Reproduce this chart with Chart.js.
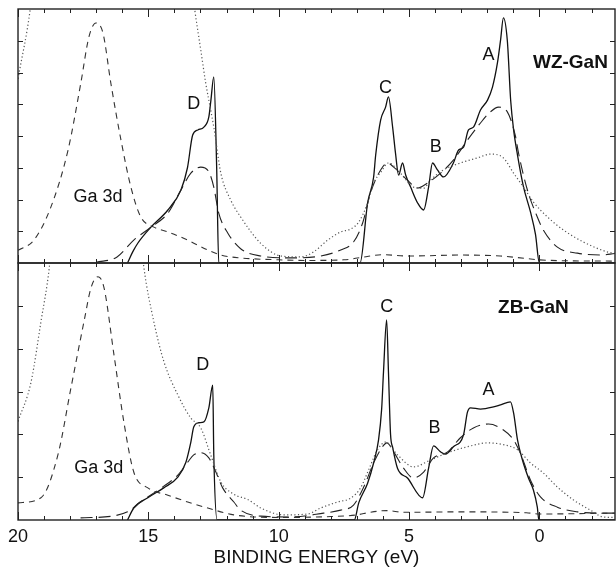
<!DOCTYPE html>
<html>
<head>
<meta charset="utf-8">
<script src="https://cdn.jsdelivr.net/npm/chart.js@4.4.1/dist/chart.umd.min.js"></script>
<style>
  html, body { margin: 0; padding: 0; background: #fff; }
  canvas { display: block; }
</style>
</head>
<body>
<canvas id="dos" width="616" height="571"></canvas>
<script>
// binding energy (eV), intensity (arb. units) pairs
// top panel: WZ-GaN (0..8), bottom panel: ZB-GaN (0..6)
const wzTheory = [[15.8,0],[15.6,0.35],[15.4,0.63],[14.9,1.13],[14.25,1.67],[13.75,2.3],[13.5,3.0],[13.3,4.03],[13.1,4.19],[12.87,4.28],[12.68,4.6],[12.6,5.13],[12.49,5.86],[12.38,3.02],[12.3,0],[6.88,0],[6.59,1.89],[6.36,2.7],[6.28,3.4],[6.09,4.5],[5.9,4.91],[5.79,5.23],[5.63,4.28],[5.52,3.46],[5.4,2.77],[5.25,3.15],[5.13,2.77],[4.94,2.39],[4.67,1.89],[4.44,1.67],[4.25,2.39],[4.1,3.15],[3.91,2.93],[3.68,2.71],[3.3,3.15],[3.1,3.56],[2.91,3.65],[2.72,4.19],[2.53,4.28],[2.26,4.82],[1.99,5.13],[1.8,5.54],[1.61,6.3],[1.49,7.02],[1.38,7.72],[1.23,7.0],[1.1,5.1],[0.99,4.2],[0.84,3.4],[0.61,2.4],[0.34,1.6],[0.15,0.9],[0.0,0],[-2.9,0]];
const wzBroadened = [[17,0.02],[16.2,0.19],[15.56,0.72],[14.9,1.13],[14.25,1.57],[13.75,2.3],[13.37,2.83],[12.99,3.02],[12.68,2.87],[12.49,2.39],[12.3,1.57],[11.95,0.94],[11.46,0.45],[10.69,0.22],[9.54,0.16],[8.39,0.22],[7.62,0.41],[7.13,0.66],[6.78,1.26],[6.48,2.2],[6.09,2.93],[5.82,3.15],[5.59,3.02],[5.06,2.61],[4.67,2.36],[4.29,2.52],[3.79,2.83],[3.3,3.24],[2.76,3.87],[2.26,4.41],[1.88,4.76],[1.57,4.91],[1.23,4.76],[0.92,4.0],[0.8,3.46],[0.46,2.3],[0.08,1.45],[-0.15,1.04],[-0.69,0.5],[-1.46,0.31],[-2.34,0.25],[-2.9,0.3]];
const wzGa3d = [[20,0.4],[19.39,0.72],[18.74,1.76],[18.08,3.56],[17.59,5.67],[17.28,7.12],[17.01,7.56],[16.74,7.24],[16.44,5.67],[16.05,3.87],[15.67,2.39],[15.29,1.45],[14.79,1.13],[14.25,0.98],[13.49,0.72],[12.72,0.41],[12.22,0.25],[11.46,0.16],[10,0.1],[9,0.08],[7.5,0.1],[6.8,0.18],[6,0.26],[5,0.22],[3,0.25],[1.5,0.22],[0.5,0.14],[0,0.1],[-1,0.07],[-2.9,0.06]];
const wzExpt = [[20,5.8],[19.53,8.0],[19.2,10.5],[17,18],[13.6,10.3],[13.22,7.97],[12.99,6.71],[12.8,5.67],[12.61,4.82],[12.49,4.28],[12.22,2.83],[11.84,1.98],[11.46,1.45],[10.69,0.62],[9.92,0.22],[9.16,0.19],[8.66,0.35],[8.12,0.72],[7.62,0.98],[7.24,1.07],[6.93,1.29],[6.59,1.89],[6.36,2.52],[6.09,2.85],[5.79,3.15],[5.33,2.83],[4.83,2.39],[4.44,2.36],[4.18,2.61],[3.68,2.93],[3.03,3.15],[2.38,3.31],[1.88,3.43],[1.38,3.31],[0.99,2.83],[0.61,2.39],[0.23,1.92],[-0.31,1.45],[-0.92,1.04],[-1.69,0.66],[-2.6,0.35],[-2.9,0.3]];

const zbTheory = [[15.8,0],[15.56,0.28],[15.02,0.52],[14.41,0.75],[13.87,1.0],[13.56,1.35],[13.37,1.82],[13.26,2.17],[13.07,2.27],[12.87,2.29],[12.68,2.62],[12.53,3.15],[12.49,1.52],[12.36,0],[7.1,0],[6.93,0.4],[6.59,0.86],[6.36,1.33],[6.17,1.87],[6.05,2.6],[5.98,3.46],[5.86,4.67],[5.79,3.46],[5.71,2.0],[5.63,1.7],[5.44,1.2],[5.06,0.98],[4.48,0.52],[4.25,1.21],[4.06,1.73],[3.79,1.59],[3.6,1.54],[3.3,1.71],[2.91,1.99],[2.76,2.52],[2.64,2.62],[2.26,2.59],[1.76,2.64],[1.49,2.69],[1.11,2.76],[0.99,2.5],[0.84,1.87],[0.65,1.4],[0.42,0.98],[0.23,0.7],[0.08,0.3],[0.02,0],[-2.9,0]];
const zbBroadened = [[17.6,0.05],[16.4,0.09],[15.8,0.19],[15.3,0.42],[14.5,0.75],[13.87,1.05],[13.49,1.35],[13.26,1.52],[12.99,1.57],[12.68,1.45],[12.41,1.12],[12.15,0.75],[11.72,0.42],[11.46,0.23],[10.69,0.09],[9.54,0.07],[8.28,0.16],[7.62,0.23],[7.13,0.35],[6.74,0.77],[6.36,1.33],[6.02,1.71],[5.85,1.8],[5.59,1.59],[5.21,1.21],[4.83,0.98],[4.44,1.12],[4.06,1.45],[3.52,1.59],[3.03,1.92],[2.53,2.15],[1.95,2.24],[1.38,2.1],[0.99,1.87],[0.73,1.56],[0.34,0.93],[-0.04,0.54],[-0.69,0.3],[-1.46,0.19],[-2.22,0.16],[-2.9,0.16]];
const zbGa3d = [[20,0.4],[19.12,0.52],[18.47,1.52],[17.97,3.08],[17.47,4.63],[17.2,5.42],[16.93,5.68],[16.7,5.42],[16.32,3.86],[15.94,2.29],[15.56,1.12],[15.02,0.75],[14.25,0.58],[13.49,0.42],[12.72,0.28],[11.72,0.12],[10,0.06],[8,0.08],[7,0.12],[6.5,0.18],[5.85,0.22],[5.2,0.18],[3,0.19],[0.5,0.17],[0,0.14],[-2.9,0.16]];
const zbExpt = [[20,2.3],[19.5,3.22],[19.12,4.63],[18.8,5.89],[18.6,7.2],[17,12],[15.4,7.2],[15.17,5.89],[14.79,4.63],[14.4,3.69],[13.87,2.92],[13.37,2.38],[12.99,2.15],[12.61,1.52],[12.22,0.89],[11.72,0.6],[11.19,0.48],[10.69,0.28],[9.81,0.12],[8.89,0.14],[8.39,0.28],[7.74,0.42],[7.24,0.51],[6.86,0.75],[6.55,1.17],[6.21,1.64],[5.9,1.82],[5.44,1.52],[4.83,1.24],[4.18,1.4],[3.52,1.57],[2.76,1.71],[1.99,1.8],[1.38,1.76],[0.84,1.64],[0.34,1.33],[-0.15,1.1],[-0.69,0.77],[-1.3,0.47],[-1.96,0.23],[-2.45,0.07],[-2.9,0.06]];

const xTickValues = [20, 15, 10, 5, 0];
const wzNotes = [['D', 13.26, 5.0], ['Ga 3d', 16.93, 2.08], ['C', 5.9, 5.51], ['B', 3.98, 3.65], ['A', 1.95, 6.55]];
const zbNotes = [['D', 12.91, 3.62], ['Ga 3d', 16.9, 1.21], ['C', 5.86, 4.98], ['B', 4.02, 2.15], ['A', 1.95, 3.04]];

const FONT = "'Liberation Sans', Arial, Helvetica, sans-serif";
const INK = '#111';

function line(data, yAxisID, kind) {
  const styles = {
    solid:  { borderColor: '#111', borderWidth: 1.3, borderDash: [] },
    long:   { borderColor: '#222', borderWidth: 1.1, borderDash: [12, 6] },
    short:  { borderColor: '#333', borderWidth: 1.1, borderDash: [6, 5] },
    dotted: { borderColor: '#555', borderWidth: 1.2, borderDash: [1.2, 2.4] }
  };
  return Object.assign({
    data: data, yAxisID: yAxisID, xAxisID: 'x',
    pointRadius: 0, fill: false, cubicInterpolationMode: 'monotone'
  }, styles[kind]);
}

const framePlugin = {
  id: 'frame',
  afterDatasetsDraw(chart) {
    const ctx = chart.ctx;
    const x = chart.scales.x;
    ctx.save();
    ctx.strokeStyle = '#222';
    [chart.scales.yTop, chart.scales.yBot].forEach(y => {
      ctx.lineWidth = 1.4;
      ctx.strokeRect(x.left, y.top, x.right - x.left, y.bottom - y.top);
      ctx.beginPath();
      for (let e = -2; e <= 20; e++) {
        const px = Math.round(x.getPixelForValue(e)) + 0.5;
        const len = e % 5 === 0 ? 8 : 4;
        ctx.moveTo(px, y.bottom); ctx.lineTo(px, y.bottom - len);
        ctx.moveTo(px, y.top); ctx.lineTo(px, y.top + len);
      }
      for (let v = 1; v < y.max; v++) {
        const py = Math.round(y.getPixelForValue(v)) + 0.5;
        ctx.moveTo(x.left, py); ctx.lineTo(x.left + 5, py);
        ctx.moveTo(x.right, py); ctx.lineTo(x.right - 5, py);
      }
      ctx.lineWidth = 1;
      ctx.stroke();
    });
    ctx.restore();
  },
  afterDraw(chart) {
    const ctx = chart.ctx;
    const x = chart.scales.x;
    ctx.save();
    ctx.fillStyle = INK;
    ctx.textAlign = 'center';
    ctx.textBaseline = 'middle';
    ctx.font = '18px ' + FONT;
    wzNotes.forEach(n => ctx.fillText(n[0], x.getPixelForValue(n[1]), chart.scales.yTop.getPixelForValue(n[2])));
    zbNotes.forEach(n => ctx.fillText(n[0], x.getPixelForValue(n[1]), chart.scales.yBot.getPixelForValue(n[2])));
    ctx.font = 'bold 19px ' + FONT;
    ctx.fillText('WZ-GaN', x.getPixelForValue(-1.19), chart.scales.yTop.getPixelForValue(6.3));
    ctx.fillText('ZB-GaN', x.getPixelForValue(0.23), chart.scales.yBot.getPixelForValue(4.95));
    ctx.restore();
  }
};

const hiddenY = (max, weight) => ({
  type: 'linear', position: 'left', stack: 'panels', stackWeight: weight,
  min: 0, max: max,
  ticks: { display: false, stepSize: 1 },
  grid: { display: false, drawTicks: false },
  border: { display: false }
});

new Chart(document.getElementById('dos'), {
  type: 'line',
  data: {
    datasets: [
      line(wzExpt, 'yTop', 'dotted'),
      line(wzGa3d, 'yTop', 'short'),
      line(wzBroadened, 'yTop', 'long'),
      line(wzTheory, 'yTop', 'solid'),
      line(zbExpt, 'yBot', 'dotted'),
      line(zbGa3d, 'yBot', 'short'),
      line(zbBroadened, 'yBot', 'long'),
      line(zbTheory, 'yBot', 'solid')
    ]
  },
  options: {
    responsive: false,
    animation: false,
    devicePixelRatio: 1,
    layout: { padding: { left: 17, right: 1, top: 9, bottom: 0 } },
    plugins: { legend: { display: false }, tooltip: { enabled: false } },
    scales: {
      x: {
        type: 'linear', position: 'bottom', reverse: true, min: -2.9, max: 20,
        afterBuildTicks: axis => { axis.ticks = xTickValues.map(v => ({ value: v })); },
        ticks: { color: INK, font: { family: FONT, size: 18, lineHeight: 1 }, padding: 8, maxRotation: 0, autoSkip: false },
        grid: { display: false, drawTicks: false },
        border: { display: false },
        title: { display: true, text: 'BINDING ENERGY (eV)', color: INK,
                 font: { family: FONT, size: 19, lineHeight: 1 }, padding: { top: -6, bottom: 4 } }
      },
      // stacked axes are placed bottom-up in definition order
      yBot: hiddenY(6, 257),
      yTop: hiddenY(8, 254)
    }
  },
  plugins: [framePlugin]
});
</script>
</body>
</html>
